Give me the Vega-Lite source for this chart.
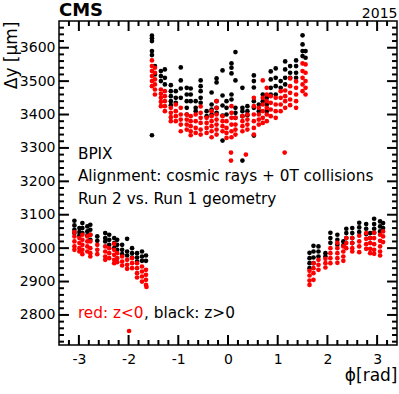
{
 "$schema": "https://vega.github.io/schema/vega-lite/v6.json",
 "width": 338, "height": 324,
 "autosize": "none",
 "padding": {"left": 59, "top": 21, "right": 2, "bottom": 49},
 "background": "white",
 "config": {"view": {"stroke": "black", "strokeWidth": 1.5}, "font": "DejaVu Sans", "axis": {"grid": false, "domain": false, "labelColor": "black", "titleColor": "black", "labelFont": "DejaVu Sans", "titleFont": "DejaVu Sans", "labelFontSize": 14, "titleFontWeight": "normal", "labelOverlap": false, "labelFlush": false}},
 "datasets": {
  "pos": [
   {"p":-1.53,"d":3636},{"p":-1.53,"d":3628},{"p":-1.53,"d":3620},{"p":-1.53,"d":3590},{"p":-1.53,"d":3578},{"p":-1.53,"d":3338},
   {"p":-1.47,"d":3545},{"p":-1.47,"d":3520},
   {"p":-1.35,"d":3530},{"p":-1.35,"d":3515},{"p":-1.35,"d":3500},
   {"p":-1.27,"d":3535},{"p":-1.27,"d":3510},{"p":-1.27,"d":3490},
   {"p":-1.15,"d":3488},{"p":-1.15,"d":3470},{"p":-1.15,"d":3455},{"p":-1.15,"d":3440},{"p":-1.15,"d":3428},
   {"p":-1.05,"d":3470},{"p":-1.05,"d":3450},{"p":-1.05,"d":3435},
   {"p":-0.95,"d":3541},{"p":-0.95,"d":3502},{"p":-0.95,"d":3478},{"p":-0.95,"d":3450},
   {"p":-0.83,"d":3480},{"p":-0.83,"d":3460},{"p":-0.83,"d":3440},{"p":-0.83,"d":3420},{"p":-0.83,"d":3400},
   {"p":-0.75,"d":3478},{"p":-0.75,"d":3460},{"p":-0.75,"d":3440},
   {"p":-0.65,"d":3440},{"p":-0.65,"d":3420},{"p":-0.65,"d":3410},
   {"p":-0.55,"d":3502},{"p":-0.55,"d":3485},{"p":-0.55,"d":3470},{"p":-0.55,"d":3450},{"p":-0.55,"d":3435},
   {"p":-0.43,"d":3410},{"p":-0.43,"d":3395},
   {"p":-0.33,"d":3466},{"p":-0.33,"d":3430},{"p":-0.33,"d":3415},{"p":-0.33,"d":3400},
   {"p":-0.23,"d":3508},{"p":-0.23,"d":3496},{"p":-0.23,"d":3440},{"p":-0.23,"d":3420},{"p":-0.23,"d":3405},
   {"p":-0.11,"d":3532},{"p":-0.11,"d":3457},{"p":-0.11,"d":3427},{"p":-0.11,"d":3397},{"p":-0.11,"d":3322},
   {"p":-0.03,"d":3440},{"p":-0.03,"d":3420},{"p":-0.03,"d":3400},
   {"p":0.07,"d":3553},{"p":0.07,"d":3540},{"p":0.07,"d":3523},{"p":0.07,"d":3460},{"p":0.07,"d":3445},
   {"p":0.15,"d":3587},{"p":0.15,"d":3502},{"p":0.15,"d":3420},{"p":0.15,"d":3405},{"p":0.15,"d":3390},
   {"p":0.29,"d":3480},{"p":0.29,"d":3420},{"p":0.29,"d":3410},{"p":0.29,"d":3395},{"p":0.29,"d":3262},
   {"p":0.39,"d":3425},{"p":0.39,"d":3410},{"p":0.39,"d":3398},
   {"p":0.52,"d":3517},{"p":0.52,"d":3500},{"p":0.52,"d":3481},{"p":0.52,"d":3440},{"p":0.52,"d":3420},{"p":0.52,"d":3337},
   {"p":0.62,"d":3430},{"p":0.62,"d":3410},
   {"p":0.70,"d":3460},{"p":0.70,"d":3440},
   {"p":0.78,"d":3450},{"p":0.78,"d":3430},{"p":0.78,"d":3410},
   {"p":0.86,"d":3529},{"p":0.86,"d":3505},{"p":0.86,"d":3480},{"p":0.86,"d":3460},
   {"p":0.96,"d":3538},{"p":0.96,"d":3510},{"p":0.96,"d":3485},{"p":0.96,"d":3460},
   {"p":1.06,"d":3500},{"p":1.06,"d":3480},
   {"p":1.15,"d":3559},{"p":1.15,"d":3535},{"p":1.15,"d":3510},{"p":1.15,"d":3490},
   {"p":1.25,"d":3545},{"p":1.25,"d":3525},{"p":1.25,"d":3510},
   {"p":1.37,"d":3562},{"p":1.37,"d":3545},{"p":1.37,"d":3525},{"p":1.37,"d":3510},
   {"p":1.50,"d":3637},{"p":1.50,"d":3610},{"p":1.50,"d":3590},{"p":1.50,"d":3575},
   {"p":1.56,"d":3590},{"p":1.56,"d":3570},
   {"p":-3.09,"d":3082},{"p":-3.09,"d":3068},{"p":-3.09,"d":3055},{"p":-3.09,"d":3045},
   {"p":-2.99,"d":3060},{"p":-2.99,"d":3048},{"p":-2.99,"d":3038},
   {"p":-2.93,"d":3075},{"p":-2.93,"d":3060},{"p":-2.93,"d":3045},
   {"p":-2.83,"d":3065},{"p":-2.83,"d":3050},{"p":-2.83,"d":3038},
   {"p":-2.77,"d":3070},{"p":-2.77,"d":3055},{"p":-2.77,"d":3040},{"p":-2.77,"d":3025},
   {"p":-2.63,"d":3035},{"p":-2.63,"d":3022},
   {"p":-2.47,"d":3045},{"p":-2.47,"d":3030},{"p":-2.47,"d":3020},
   {"p":-2.39,"d":3040},{"p":-2.39,"d":3025},{"p":-2.39,"d":3010},
   {"p":-2.29,"d":3030},{"p":-2.29,"d":3015},{"p":-2.29,"d":3000},
   {"p":-2.23,"d":3025},{"p":-2.23,"d":3010},{"p":-2.23,"d":2995},
   {"p":-2.13,"d":3010},{"p":-2.13,"d":2995},{"p":-2.13,"d":2982},
   {"p":-2.03,"d":3028},{"p":-2.03,"d":2990},{"p":-2.03,"d":2978},
   {"p":-1.93,"d":3000},{"p":-1.93,"d":2985},{"p":-1.93,"d":2972},
   {"p":-1.83,"d":2985},{"p":-1.83,"d":2972},{"p":-1.83,"d":2960},
   {"p":-1.73,"d":2990},{"p":-1.73,"d":2975},{"p":-1.73,"d":2962},
   {"p":-1.65,"d":2978},{"p":-1.65,"d":2962},
   {"p":1.64,"d":2986},{"p":1.64,"d":2970},{"p":1.64,"d":2955},{"p":1.64,"d":2940},
   {"p":1.72,"d":3007},{"p":1.72,"d":2990},{"p":1.72,"d":2972},{"p":1.72,"d":2955},
   {"p":1.82,"d":3005},{"p":1.82,"d":2990},{"p":1.82,"d":2975},
   {"p":1.96,"d":2985},{"p":1.96,"d":2975},
   {"p":2.06,"d":3046},{"p":2.06,"d":3030},{"p":2.06,"d":3016},
   {"p":2.20,"d":3040},{"p":2.20,"d":3025},{"p":2.20,"d":3010},
   {"p":2.32,"d":3020},{"p":2.32,"d":3008},
   {"p":2.38,"d":3058},{"p":2.38,"d":3045},{"p":2.38,"d":3030},
   {"p":2.50,"d":3060},{"p":2.50,"d":3045},{"p":2.50,"d":3030},{"p":2.50,"d":3015},
   {"p":2.64,"d":3076},{"p":2.64,"d":3062},{"p":2.64,"d":3048},
   {"p":2.78,"d":3072},{"p":2.78,"d":3058},{"p":2.78,"d":3042},
   {"p":2.86,"d":3045},{"p":2.86,"d":3030},
   {"p":2.94,"d":3088},{"p":2.94,"d":3072},{"p":2.94,"d":3058},{"p":2.94,"d":3046},
   {"p":3.06,"d":3080},{"p":3.06,"d":3065},{"p":3.06,"d":3050},
   {"p":3.12,"d":3075},{"p":3.12,"d":3060}
  ],
  "neg": [
   {"p":-1.53,"d":3562},{"p":-1.53,"d":3545},{"p":-1.53,"d":3530},{"p":-1.53,"d":3515},{"p":-1.53,"d":3500},{"p":-1.53,"d":3485},
   {"p":-1.47,"d":3540},{"p":-1.47,"d":3525},{"p":-1.47,"d":3505},{"p":-1.47,"d":3490},{"p":-1.47,"d":3475},{"p":-1.47,"d":3460},
   {"p":-1.35,"d":3475},{"p":-1.35,"d":3462},{"p":-1.35,"d":3450},{"p":-1.35,"d":3438},{"p":-1.35,"d":3425},
   {"p":-1.27,"d":3470},{"p":-1.27,"d":3455},{"p":-1.27,"d":3440},{"p":-1.27,"d":3425},{"p":-1.27,"d":3410},
   {"p":-1.15,"d":3420},{"p":-1.15,"d":3405},{"p":-1.15,"d":3392},{"p":-1.15,"d":3380},
   {"p":-1.05,"d":3430},{"p":-1.05,"d":3410},{"p":-1.05,"d":3395},{"p":-1.05,"d":3380},
   {"p":-0.95,"d":3420},{"p":-0.95,"d":3400},{"p":-0.95,"d":3385},{"p":-0.95,"d":3370},{"p":-0.95,"d":3350},
   {"p":-0.83,"d":3400},{"p":-0.83,"d":3385},{"p":-0.83,"d":3370},{"p":-0.83,"d":3355},
   {"p":-0.75,"d":3395},{"p":-0.75,"d":3380},{"p":-0.75,"d":3365},{"p":-0.75,"d":3350},{"p":-0.75,"d":3338},
   {"p":-0.65,"d":3400},{"p":-0.65,"d":3380},{"p":-0.65,"d":3360},{"p":-0.65,"d":3345},
   {"p":-0.55,"d":3424},{"p":-0.55,"d":3405},{"p":-0.55,"d":3390},{"p":-0.55,"d":3375},{"p":-0.55,"d":3355},{"p":-0.55,"d":3340},
   {"p":-0.43,"d":3390},{"p":-0.43,"d":3375},{"p":-0.43,"d":3360},{"p":-0.43,"d":3345},
   {"p":-0.33,"d":3410},{"p":-0.33,"d":3395},{"p":-0.33,"d":3380},{"p":-0.33,"d":3365},{"p":-0.33,"d":3350},{"p":-0.33,"d":3332},
   {"p":-0.23,"d":3440},{"p":-0.23,"d":3420},{"p":-0.23,"d":3400},{"p":-0.23,"d":3385},{"p":-0.23,"d":3370},{"p":-0.23,"d":3355},{"p":-0.23,"d":3340},
   {"p":-0.11,"d":3395},{"p":-0.11,"d":3380},{"p":-0.11,"d":3365},{"p":-0.11,"d":3350},
   {"p":-0.03,"d":3380},{"p":-0.03,"d":3360},{"p":-0.03,"d":3345},{"p":-0.03,"d":3330},
   {"p":0.07,"d":3425},{"p":0.07,"d":3405},{"p":0.07,"d":3390},{"p":0.07,"d":3370},{"p":0.07,"d":3350},{"p":0.07,"d":3332},{"p":0.06,"d":3286},{"p":0.06,"d":3262},
   {"p":0.15,"d":3390},{"p":0.15,"d":3370},{"p":0.15,"d":3355},{"p":0.15,"d":3340},
   {"p":0.29,"d":3395},{"p":0.29,"d":3380},{"p":0.29,"d":3365},{"p":0.29,"d":3350},
   {"p":0.36,"d":3280},
   {"p":0.39,"d":3400},{"p":0.39,"d":3385},{"p":0.39,"d":3370},{"p":0.39,"d":3355},
   {"p":0.52,"d":3450},{"p":0.52,"d":3425},{"p":0.52,"d":3400},{"p":0.52,"d":3380},{"p":0.52,"d":3360},{"p":0.52,"d":3340},
   {"p":0.62,"d":3420},{"p":0.62,"d":3400},{"p":0.62,"d":3385},{"p":0.62,"d":3370},
   {"p":0.70,"d":3502},{"p":0.70,"d":3450},{"p":0.70,"d":3430},{"p":0.70,"d":3410},{"p":0.70,"d":3390},{"p":0.70,"d":3375},
   {"p":0.78,"d":3480},{"p":0.78,"d":3460},{"p":0.78,"d":3440},{"p":0.78,"d":3420},{"p":0.78,"d":3400},{"p":0.78,"d":3380},
   {"p":0.86,"d":3455},{"p":0.86,"d":3435},{"p":0.86,"d":3415},{"p":0.86,"d":3395},
   {"p":0.96,"d":3450},{"p":0.96,"d":3430},{"p":0.96,"d":3410},{"p":0.96,"d":3390},
   {"p":1.06,"d":3470},{"p":1.06,"d":3450},{"p":1.06,"d":3430},{"p":1.06,"d":3410},
   {"p":1.15,"d":3472},{"p":1.15,"d":3455},{"p":1.15,"d":3440},{"p":1.15,"d":3420},{"p":1.14,"d":3286},
   {"p":1.25,"d":3508},{"p":1.25,"d":3485},{"p":1.25,"d":3465},{"p":1.25,"d":3445},{"p":1.25,"d":3428},
   {"p":1.37,"d":3499},{"p":1.37,"d":3480},{"p":1.37,"d":3460},{"p":1.37,"d":3440},{"p":1.37,"d":3420},
   {"p":1.50,"d":3553},{"p":1.50,"d":3530},{"p":1.50,"d":3510},{"p":1.50,"d":3490},{"p":1.50,"d":3470},
   {"p":1.56,"d":3550},{"p":1.56,"d":3525},{"p":1.56,"d":3500},{"p":1.56,"d":3480},{"p":1.56,"d":3460},
   {"p":-3.09,"d":3048},{"p":-3.09,"d":3035},{"p":-3.09,"d":3020},{"p":-3.09,"d":3005},{"p":-3.09,"d":2995},
   {"p":-2.99,"d":3030},{"p":-2.99,"d":3015},{"p":-2.99,"d":3000},{"p":-2.99,"d":2990},
   {"p":-2.93,"d":3040},{"p":-2.93,"d":3025},{"p":-2.93,"d":3010},{"p":-2.93,"d":2995},{"p":-2.93,"d":2982},
   {"p":-2.83,"d":3035},{"p":-2.83,"d":3020},{"p":-2.83,"d":3005},{"p":-2.83,"d":2990},
   {"p":-2.77,"d":3040},{"p":-2.77,"d":3020},{"p":-2.77,"d":3000},{"p":-2.77,"d":2985},{"p":-2.77,"d":2975},
   {"p":-2.63,"d":3010},{"p":-2.63,"d":2995},{"p":-2.63,"d":2982},
   {"p":-2.47,"d":3005},{"p":-2.47,"d":2990},{"p":-2.47,"d":2975},{"p":-2.47,"d":2965},
   {"p":-2.39,"d":3000},{"p":-2.39,"d":2985},{"p":-2.39,"d":2970},
   {"p":-2.29,"d":3013},{"p":-2.29,"d":2995},{"p":-2.29,"d":2980},{"p":-2.29,"d":2965},{"p":-2.29,"d":2955},
   {"p":-2.23,"d":2985},{"p":-2.23,"d":2970},{"p":-2.23,"d":2958},
   {"p":-2.13,"d":2975},{"p":-2.13,"d":2960},{"p":-2.13,"d":2948},
   {"p":-1.99,"d":2752},
   {"p":-2.03,"d":2965},{"p":-2.03,"d":2950},{"p":-2.03,"d":2938},
   {"p":-1.93,"d":2970},{"p":-1.93,"d":2955},{"p":-1.93,"d":2940},
   {"p":-1.83,"d":2955},{"p":-1.83,"d":2940},{"p":-1.83,"d":2925},{"p":-1.83,"d":2912},
   {"p":-1.73,"d":2945},{"p":-1.73,"d":2930},{"p":-1.73,"d":2915},{"p":-1.73,"d":2900},
   {"p":-1.65,"d":2935},{"p":-1.65,"d":2920},{"p":-1.65,"d":2905},{"p":-1.65,"d":2890},{"p":-1.64,"d":2884},
   {"p":1.64,"d":2932},{"p":1.64,"d":2918},{"p":1.64,"d":2903},{"p":1.64,"d":2890},
   {"p":1.72,"d":2955},{"p":1.72,"d":2940},{"p":1.72,"d":2925},{"p":1.72,"d":2905},
   {"p":1.82,"d":2965},{"p":1.82,"d":2950},{"p":1.82,"d":2935},
   {"p":1.96,"d":2968},{"p":1.96,"d":2955},{"p":1.96,"d":2942},
   {"p":2.06,"d":3000},{"p":2.06,"d":2985},{"p":2.06,"d":2970},{"p":2.06,"d":2955},
   {"p":2.20,"d":3016},{"p":2.20,"d":3000},{"p":2.20,"d":2985},{"p":2.20,"d":2970},{"p":2.20,"d":2956},
   {"p":2.32,"d":3005},{"p":2.32,"d":2990},{"p":2.32,"d":2975},{"p":2.32,"d":2962},
   {"p":2.38,"d":3030},{"p":2.38,"d":3015},{"p":2.38,"d":3000},
   {"p":2.50,"d":3030},{"p":2.50,"d":3015},{"p":2.50,"d":3000},{"p":2.50,"d":2990},
   {"p":2.64,"d":3037},{"p":2.64,"d":3020},{"p":2.64,"d":3005},{"p":2.64,"d":2988},
   {"p":2.78,"d":3045},{"p":2.78,"d":3028},{"p":2.78,"d":3012},{"p":2.78,"d":2998},
   {"p":2.86,"d":3030},{"p":2.86,"d":3015},{"p":2.86,"d":2998},{"p":2.86,"d":2985},
   {"p":2.94,"d":3046},{"p":2.94,"d":3030},{"p":2.94,"d":3012},{"p":2.94,"d":2995},{"p":2.94,"d":2983},
   {"p":3.06,"d":3040},{"p":3.06,"d":3022},{"p":3.06,"d":3005},{"p":3.06,"d":2990},{"p":3.06,"d":2978},
   {"p":3.12,"d":3050},{"p":3.12,"d":3035},{"p":3.12,"d":3018}
  ]
 },
 "layer": [
  {
   "data": {"name": "pos"},
   "mark": {"type": "circle", "size": 22, "opacity": 1, "color": "#000000"},
   "encoding": {
    "x": {"field": "p", "type": "quantitative", "scale": {"domain": [-3.4, 3.4], "nice": false, "zero": false},
     "axis": {"orient": "bottom", "values": [-3,-2,-1,0,1,2,3], "ticks": false, "labelPadding": 7,
      "labelExpr": "''+datum.value",
      "title": "ϕ[rad]", "titleAnchor": "end", "titleAlign": "right", "titleX": 338, "titleY": 35, "titleBaseline": "alphabetic", "titleFontSize": 17}},
    "y": {"field": "d", "type": "quantitative", "scale": {"domain": [2710, 3680], "nice": false, "zero": false},
     "axis": {"orient": "left", "values": [2800,2900,3000,3100,3200,3300,3400,3500,3600], "ticks": false, "labelPadding": 4,
      "labelExpr": "''+datum.value",
      "title": "Δy [µm]", "titleAnchor": "end", "titleAlign": "right", "titleAngle": 270, "titleX": -43, "titleY": 0, "titleBaseline": "alphabetic", "titleFontSize": 17}}
   }
  },
  {
   "data": {"name": "neg"},
   "mark": {"type": "circle", "size": 22, "opacity": 1, "color": "#ff0000"},
   "encoding": {
    "x": {"field": "p", "type": "quantitative",
     "axis": {"orient": "top", "values": [-3,-2,-1,0,1,2,3], "ticks": false, "labels": false,
      "title": "2015", "titleAnchor": "end", "titleAlign": "right", "titleX": 338, "titleY": -4, "titleBaseline": "alphabetic", "titleFontSize": 14}},
    "y": {"field": "d", "type": "quantitative", "axis": null}
   }
  },
  {"data": {"values": [{"v":-3},{"v":-2},{"v":-1},{"v":0},{"v":1},{"v":2},{"v":3}]},
   "mark": {"type": "rule", "color": "#000000", "strokeWidth": 2, "opacity": 1},
   "encoding": {"x": {"field": "v", "type": "quantitative", "axis": null}, "y": {"datum": 2710, "type": "quantitative", "axis": null}, "y2": {"datum": 2740}}},
  {"data": {"values": [{"v":-3},{"v":-2},{"v":-1},{"v":0},{"v":1},{"v":2},{"v":3}]},
   "mark": {"type": "rule", "color": "#000000", "strokeWidth": 2, "opacity": 1},
   "encoding": {"x": {"field": "v", "type": "quantitative", "axis": null}, "y": {"datum": 3650, "type": "quantitative", "axis": null}, "y2": {"datum": 3680}}},
  {"data": {"values": [{"v":-3.2},{"v":-2.8},{"v":-2.6},{"v":-2.4},{"v":-2.2},{"v":-1.8},{"v":-1.6},{"v":-1.4},{"v":-1.2},{"v":-0.8},{"v":-0.6},{"v":-0.4},{"v":-0.2},{"v":0.2},{"v":0.4},{"v":0.6},{"v":0.8},{"v":1.2},{"v":1.4},{"v":1.6},{"v":1.8},{"v":2.2},{"v":2.4},{"v":2.6},{"v":2.8},{"v":3.2}]},
   "mark": {"type": "rule", "color": "#000000", "strokeWidth": 2, "opacity": 1},
   "encoding": {"x": {"field": "v", "type": "quantitative", "axis": null}, "y": {"datum": 2710, "type": "quantitative", "axis": null}, "y2": {"datum": 2725}}},
  {"data": {"values": [{"v":-3.2},{"v":-2.8},{"v":-2.6},{"v":-2.4},{"v":-2.2},{"v":-1.8},{"v":-1.6},{"v":-1.4},{"v":-1.2},{"v":-0.8},{"v":-0.6},{"v":-0.4},{"v":-0.2},{"v":0.2},{"v":0.4},{"v":0.6},{"v":0.8},{"v":1.2},{"v":1.4},{"v":1.6},{"v":1.8},{"v":2.2},{"v":2.4},{"v":2.6},{"v":2.8},{"v":3.2}]},
   "mark": {"type": "rule", "color": "#000000", "strokeWidth": 2, "opacity": 1},
   "encoding": {"x": {"field": "v", "type": "quantitative", "axis": null}, "y": {"datum": 3665, "type": "quantitative", "axis": null}, "y2": {"datum": 3680}}},
  {"data": {"values": [{"v":2800},{"v":2900},{"v":3000},{"v":3100},{"v":3200},{"v":3300},{"v":3400},{"v":3500},{"v":3600}]},
   "mark": {"type": "rule", "color": "#000000", "strokeWidth": 2, "opacity": 1},
   "encoding": {"y": {"field": "v", "type": "quantitative", "axis": null}, "x": {"datum": -3.4, "type": "quantitative", "axis": null}, "x2": {"datum": -3.2}}},
  {"data": {"values": [{"v":2800},{"v":2900},{"v":3000},{"v":3100},{"v":3200},{"v":3300},{"v":3400},{"v":3500},{"v":3600}]},
   "mark": {"type": "rule", "color": "#000000", "strokeWidth": 2, "opacity": 1},
   "encoding": {"y": {"field": "v", "type": "quantitative", "axis": null}, "x": {"datum": 3.2, "type": "quantitative", "axis": null}, "x2": {"datum": 3.4}}},
  {"data": {"values": [{"v":2720},{"v":2740},{"v":2760},{"v":2780},{"v":2820},{"v":2840},{"v":2860},{"v":2880},{"v":2920},{"v":2940},{"v":2960},{"v":2980},{"v":3020},{"v":3040},{"v":3060},{"v":3080},{"v":3120},{"v":3140},{"v":3160},{"v":3180},{"v":3220},{"v":3240},{"v":3260},{"v":3280},{"v":3320},{"v":3340},{"v":3360},{"v":3380},{"v":3420},{"v":3440},{"v":3460},{"v":3480},{"v":3520},{"v":3540},{"v":3560},{"v":3580},{"v":3620},{"v":3640},{"v":3660}]},
   "mark": {"type": "rule", "color": "#000000", "strokeWidth": 2, "opacity": 1},
   "encoding": {"y": {"field": "v", "type": "quantitative", "axis": null}, "x": {"datum": -3.4, "type": "quantitative", "axis": null}, "x2": {"datum": -3.3}}},
  {"data": {"values": [{"v":2720},{"v":2740},{"v":2760},{"v":2780},{"v":2820},{"v":2840},{"v":2860},{"v":2880},{"v":2920},{"v":2940},{"v":2960},{"v":2980},{"v":3020},{"v":3040},{"v":3060},{"v":3080},{"v":3120},{"v":3140},{"v":3160},{"v":3180},{"v":3220},{"v":3240},{"v":3260},{"v":3280},{"v":3320},{"v":3340},{"v":3360},{"v":3380},{"v":3420},{"v":3440},{"v":3460},{"v":3480},{"v":3520},{"v":3540},{"v":3560},{"v":3580},{"v":3620},{"v":3640},{"v":3660}]},
   "mark": {"type": "rule", "color": "#000000", "strokeWidth": 2, "opacity": 1},
   "encoding": {"y": {"field": "v", "type": "quantitative", "axis": null}, "x": {"datum": 3.3, "type": "quantitative", "axis": null}, "x2": {"datum": 3.4}}},
  {
   "data": {"values": [{}]},
   "mark": {"type": "text", "align": "left", "baseline": "middle", "fontSize": 15.3, "font": "DejaVu Sans", "color": "black"},
   "encoding": {"x": {"datum": -3.02, "type": "quantitative", "axis": null}, "y": {"datum": 3282, "type": "quantitative", "axis": null}, "text": {"value": "BPIX"}}
  },
  {
   "data": {"values": [{}]},
   "mark": {"type": "text", "align": "left", "baseline": "middle", "fontSize": 15.3, "font": "DejaVu Sans", "color": "black"},
   "encoding": {"x": {"datum": -3.02, "type": "quantitative", "axis": null}, "y": {"datum": 3216, "type": "quantitative", "axis": null}, "text": {"value": "Alignment: cosmic rays + 0T collisions"}}
  },
  {
   "data": {"values": [{}]},
   "mark": {"type": "text", "align": "left", "baseline": "middle", "fontSize": 15.3, "font": "DejaVu Sans", "color": "black"},
   "encoding": {"x": {"datum": -3.02, "type": "quantitative", "axis": null}, "y": {"datum": 3147, "type": "quantitative", "axis": null}, "text": {"value": "Run 2 vs. Run 1 geometry"}}
  },
  {
   "data": {"values": [{}]},
   "mark": {"type": "text", "align": "left", "baseline": "middle", "fontSize": 15.3, "font": "DejaVu Sans", "color": "#ff0000"},
   "encoding": {"x": {"datum": -3.02, "type": "quantitative", "axis": null}, "y": {"datum": 2806, "type": "quantitative", "axis": null}, "text": {"value": "red: z<0"}}
  },
  {
   "data": {"values": [{}]},
   "mark": {"type": "text", "align": "left", "baseline": "middle", "fontSize": 15.3, "font": "DejaVu Sans", "color": "black"},
   "encoding": {"x": {"datum": -1.69, "type": "quantitative", "axis": null}, "y": {"datum": 2806, "type": "quantitative", "axis": null}, "text": {"value": ", black: z>0"}}
  },
  {
   "data": {"values": [{}]},
   "mark": {"type": "text", "align": "left", "baseline": "alphabetic", "fontSize": 18, "fontWeight": "bold", "font": "DejaVu Sans", "color": "black", "clip": false},
   "encoding": {"x": {"datum": -3.4, "type": "quantitative", "axis": null}, "y": {"datum": 3696, "type": "quantitative", "axis": null}, "text": {"value": "CMS"}}
  }
 ],
 "resolve": {"axis": {"x": "independent", "y": "independent"}}
}
